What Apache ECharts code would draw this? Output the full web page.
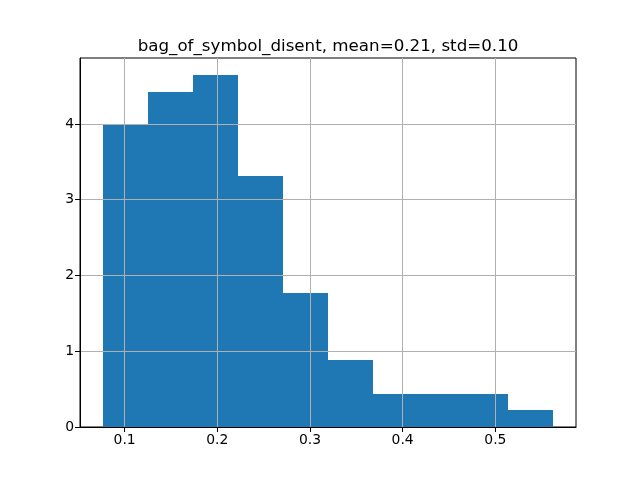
<!DOCTYPE html>
<html>
<head>
    <meta charset="UTF-8">
    <title>histogram</title>
    <script src="https://cdn.jsdelivr.net/npm/echarts@6/dist/echarts.min.js"></script>
</head>
<body style="margin:0">
<div id="chartDom" style="width:640px;height:480px"></div>

<script type="text/javascript">
    // bin edges (10 equal bins)
    var binEdges = [0.0762, 0.1249, 0.1735, 0.2222, 0.2708, 0.3195, 0.3681, 0.4168, 0.4654, 0.5141, 0.5627];
    // density per bin
    var densities = [3.98, 4.42, 4.64, 3.31, 1.77, 0.88, 0.44, 0.44, 0.44, 0.22];
    var xTicks = [0.1, 0.2, 0.3, 0.4, 0.5];
    var yTicks = [0, 1, 2, 3, 4];
    var titleText = 'bag_of_symbol_disent, mean=0.21, std=0.10';

    var myChart = echarts.init(document.getElementById('chartDom'));

    var bars = densities.map(function (d, i) {
        return [binEdges[i], binEdges[i + 1], d];
    });

    var font = 'DejaVu Sans';
    var option = {
        animation: false,
        title: {
            text: titleText,
            left: 323,
            top: 33,
            textAlign: 'center',
            textStyle: { fontFamily: font, fontSize: 16.7, fontWeight: 'normal', color: '#000' }
        },
        grid: {
            left: 80, right: 64, top: 58, bottom: 53,
            show: true, borderColor: '#000', borderWidth: 1
        },
        xAxis: {
            type: 'value',
            min: 0.0519, max: 0.587,
            z: 3,
            axisLine: { show: true, lineStyle: { color: '#000', width: 1 } },
            axisTick: { show: true, length: 5, customValues: xTicks, lineStyle: { color: '#000' } },
            axisLabel: {
                customValues: xTicks, margin: 6, color: '#000',
                fontFamily: font, fontSize: 13.9,
                formatter: function (v) { return v.toFixed(1); }
            },
            splitLine: { show: true, lineStyle: { color: '#b0b0b0', width: 1 } }
        },
        yAxis: {
            type: 'value',
            min: 0, max: 4.87,
            z: 3,
            axisLine: { show: true, lineStyle: { color: '#000', width: 1 } },
            axisTick: { show: true, length: 5, customValues: yTicks, lineStyle: { color: '#000' } },
            axisLabel: {
                customValues: yTicks, margin: 6, color: '#000',
                fontFamily: font, fontSize: 13.9
            },
            splitLine: { show: true, lineStyle: { color: '#b0b0b0', width: 1 } }
        },
        series: [{
            type: 'custom',
            z: 2,
            data: bars,
            encode: { x: [0, 1], y: 2 },
            renderItem: function (params, api) {
                var p0 = api.coord([api.value(0), api.value(2)]);
                var p1 = api.coord([api.value(1), 0]);
                // snap to whole pixels so neighbouring bins meet without seams
                var x0 = Math.round(p0[0]), x1 = Math.round(p1[0]);
                var y0 = Math.round(p0[1]), y1 = Math.round(p1[1]);
                return {
                    type: 'rect',
                    shape: { x: x0, y: y0, width: x1 - x0, height: y1 - y0 },
                    style: { fill: '#1f77b4' }
                };
            }
        }]
    };

    myChart.setOption(option);
</script>
</body>
</html>
